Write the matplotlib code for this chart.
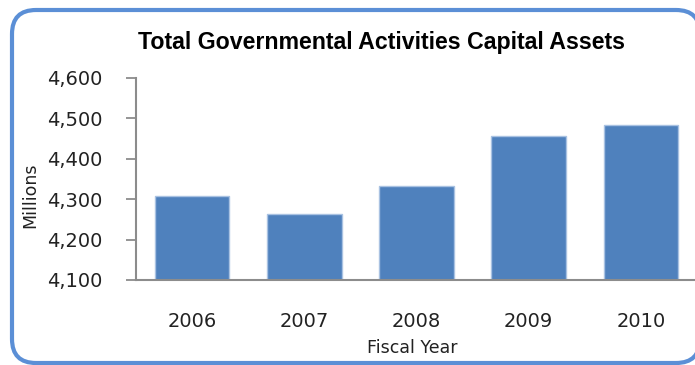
import matplotlib
matplotlib.use("Agg")
import matplotlib.pyplot as plt
from matplotlib.patches import FancyBboxPatch
from matplotlib.ticker import FuncFormatter, MultipleLocator

# Fiscal-year capital asset totals (millions)
years = ["2006", "2007", "2008", "2009", "2010"]
assets = [4309, 4263, 4333, 4456, 4484]

title = "Total Governmental Activities Capital Assets"
xlabel = "Fiscal Year"
ylabel = "Millions"

bar_color = "#4F81BD"
bar_edge = "#A9C2E2"
axis_color = "#8C8C8C"
frame_color = "#5B8FD6"
text_color = "#222222"

fig = plt.figure(figsize=(6.95, 3.65), dpi=100)
W, H = 695, 365

# background layer in pixel units for the rounded chart frame
bg = fig.add_axes([0, 0, 1, 1], zorder=-5)
bg.set_xlim(0, W)
bg.set_ylim(H, 0)
bg.axis("off")
bg.add_patch(FancyBboxPatch((12, 10), 700 - 12, 363 - 10,
                            boxstyle="round,pad=0,rounding_size=24",
                            facecolor="white", edgecolor=frame_color,
                            linewidth=3.0))

left, right, top, bottom = 136, 697, 78, 280
ax = fig.add_axes([left / W, (H - bottom) / H, (right - left) / W, (bottom - top) / H],
                  zorder=1)
ax.set_facecolor("none")

x = range(len(years))
ax.bar(x, assets, width=0.665, color=bar_color, edgecolor=bar_edge, linewidth=1.0,
       zorder=2)

ax.set_xlim(-0.5, len(years) - 0.5)
ax.set_ylim(4100, 4600)
ax.yaxis.set_major_locator(MultipleLocator(100))
ax.yaxis.set_major_formatter(FuncFormatter(lambda v, p: f"{int(v):,}"))
ax.set_xticks(list(x))
ax.set_xticklabels(years)

for s in ["top", "right"]:
    ax.spines[s].set_visible(False)
for s in ["left", "bottom"]:
    ax.spines[s].set_color(axis_color)
    ax.spines[s].set_linewidth(1.5)

ax.tick_params(axis="y", direction="out", length=7, width=1.3, color=axis_color,
               labelsize=14, pad=17, labelcolor=text_color)
ax.tick_params(axis="x", length=0, labelsize=14, pad=23, labelcolor=text_color)

t = fig.text(382 / W, 1 - 42 / H, title, ha="center", va="center",
             fontsize=17, fontweight="bold", family="Liberation Sans")
# shrink the title to its intended span
fig.canvas.draw()
tw = t.get_window_extent().width
t.set_fontsize(17 * 490 / tw)

fig.text(412 / W, 1 - 348 / H, xlabel, ha="center", va="center", fontsize=12.5,
         color=text_color)
fig.text(30 / W, 1 - 195 / H, ylabel, ha="center", va="center", fontsize=12.5,
         rotation=90, color=text_color)

fig.savefig("out.png", dpi=100)
